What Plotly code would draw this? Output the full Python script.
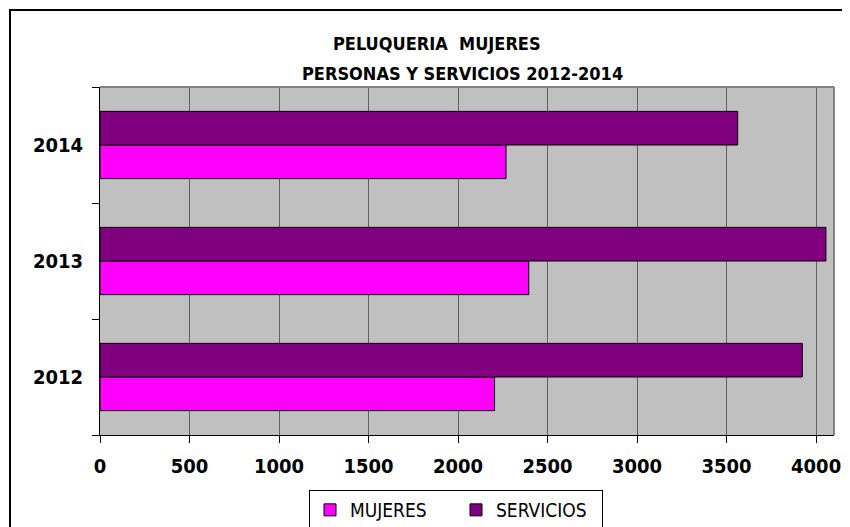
import plotly.graph_objects as go

# chart data
years = ["2012", "2013", "2014"]
mujeres = [2204, 2395, 2268]
servicios = [3923, 4055, 3562]
x_ticks = [0, 500, 1000, 1500, 2000, 2500, 3000, 3500, 4000]
title_lines = ["PELUQUERIA  MUJERES", "PERSONAS Y SERVICIOS 2012-2014"]

FONT = "DejaVu Sans Condensed"

# page body has an 8px margin, so the figure is drawn 8px smaller and shifted
W, H = 842, 519
L, T = 92, 79
PW, PH = 734, 348

fig = go.Figure()
fig.add_trace(go.Bar(
    y=years, x=mujeres, orientation="h", name="MUJERES",
    marker=dict(color="#FF00FF", line=dict(color="black", width=1))
))
fig.add_trace(go.Bar(
    y=years, x=servicios, orientation="h", name="SERVICIOS",
    marker=dict(color="#800080", line=dict(color="black", width=1))
))

fig.update_layout(
    width=W, height=H,
    margin=dict(l=L, r=W - L - PW, t=T, b=H - T - PH, autoexpand=False),
    paper_bgcolor="white",
    plot_bgcolor="#C0C0C0",
    barmode="group",
    bargap=0.42,
    bargroupgap=0,
    font=dict(family=FONT, color="black"),
    legend=dict(
        orientation="h",
        x=(456 - 100) / PW, xanchor="center",
        y=(435 - 490) / PH, yanchor="top",
        bordercolor="black", borderwidth=1, bgcolor="white",
        font=dict(family=FONT, size=19, color="black"),
        traceorder="normal",
        itemwidth=30,
        entrywidth=101,
    ),
)

# two title lines placed separately (page coords minus the 8px body margin)
for txt, cx, cy in [(title_lines[0], 437, 43), (title_lines[1], 462, 73)]:
    fig.add_annotation(
        text="<b>" + txt + "</b>", showarrow=False,
        xref="paper", yref="paper",
        x=(cx - 100) / PW, y=(435 - cy) / PH,
        xanchor="center", yanchor="middle",
        font=dict(family=FONT, size=18, color="black"),
    )

fig.update_xaxes(
    range=[0, 4100],
    tickvals=x_ticks,
    ticktext=[str(v) for v in x_ticks],
    tickfont=dict(family=FONT, size=20, color="black", weight="bold"),
    showgrid=True, gridcolor="#606060", gridwidth=1,
    showline=True, linecolor="black", linewidth=1,
    ticks="outside", ticklen=7, tickcolor="black",
    ticklabelstandoff=6,
    zeroline=False,
)
fig.update_yaxes(
    categoryorder="array", categoryarray=years,
    tickfont=dict(family=FONT, size=20, color="black", weight="bold"),
    showgrid=False,
    showline=True, linecolor="black", linewidth=1,
    ticks="outside", ticklen=7, tickcolor="black",
    tickson="boundaries",
    ticklabelstandoff=12,
)

# gray top and right edges of the plot area
fig.add_shape(type="line", xref="paper", yref="paper", x0=0, x1=1, y0=1, y1=1,
              line=dict(color="#808080", width=2))
fig.add_shape(type="line", xref="paper", yref="paper", x0=1, x1=1, y0=0, y1=1,
              line=dict(color="#808080", width=2))

# outer chart frame (only top and left edges visible in the window)
fig.add_shape(type="rect", xref="paper", yref="paper",
              x0=(2 - L) / PW, x1=(W + 10 - L) / PW,
              y0=(T + PH - (H + 10)) / PH, y1=(T + PH - 2) / PH,
              line=dict(color="black", width=2), layer="below")

fig.write_html("out.html")
